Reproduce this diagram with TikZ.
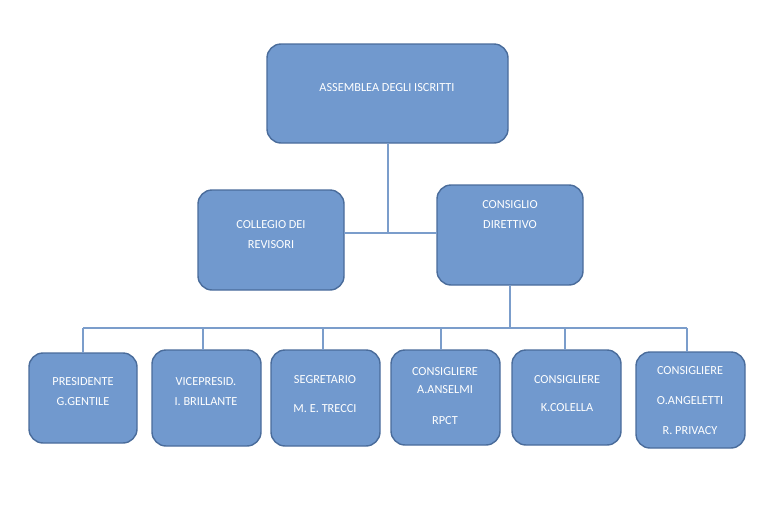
\documentclass[tikz,border=0pt]{standalone}
\usepackage{fontspec}
\setmainfont{Carlito}
\definecolor{boxfill}{HTML}{7199CE}
\definecolor{boxline}{HTML}{4A6C9B}
\definecolor{wireblue}{HTML}{7B9DCB}
\tikzset{
  orgbox/.style={draw=boxline,fill=boxfill,line width=0.8pt,rounded corners=8pt},
  lbl/.style={text=white,font=\fontsize{7}{8}\selectfont,inner sep=0pt},
  wire/.style={draw=wireblue,line width=0.9pt}
}
\begin{document}
\begin{tikzpicture}[x=0.02cm,y=-0.02cm]
  \useasboundingbox (0,0) rectangle (781,507);
  % boxes
  \draw[orgbox] (267,44) rectangle (508,143) coordinate (asmb_br);
  \coordinate (asmb_b) at (388,143);
  \draw[orgbox] (198,190) rectangle (344,290);
  \coordinate (coll_r) at (344,233);
  \draw[orgbox] (437,185) rectangle (583,285);
  \coordinate (cons_l) at (437,233);
  \coordinate (cons_b) at (510,285);
  \draw[orgbox] (29,353) rectangle (137,443);
  \draw[orgbox] (152,350) rectangle (261,446);
  \draw[orgbox] (271,350) rectangle (380,446);
  \draw[orgbox] (391,350) rectangle (500,445);
  \draw[orgbox] (512,350) rectangle (621,445);
  \draw[orgbox] (636,352) rectangle (745,448);
  % labels
  \node[lbl] (asmb) at (387,88) {ASSEMBLEA DEGLI ISCRITTI};
  \node[lbl] (coll1) at (271,225) {COLLEGIO DEI};
  \node[lbl] (coll2) at (271,245) {REVISORI};
  \node[lbl] (cons1) at (510,205) {CONSIGLIO};
  \node[lbl] (cons2) at (510,225) {DIRETTIVO};
  \node[lbl] (pres1) at (83,382) {PRESIDENTE};
  \node[lbl] (pres2) at (83,402) {G.GENTILE};
  \node[lbl] (vice1) at (206,382) {VICEPRESID.};
  \node[lbl] (vice2) at (206,402) {I. BRILLANTE};
  \node[lbl] (segr1) at (325,380) {SEGRETARIO};
  \node[lbl] (segr2) at (325,409) {M. E. TRECCI};
  \node[lbl] (ansl1) at (445,372) {CONSIGLIERE};
  \node[lbl] (ansl2) at (445,390) {A.ANSELMI};
  \node[lbl] (ansl3) at (445,421) {RPCT};
  \node[lbl] (colo1) at (567,380) {CONSIGLIERE};
  \node[lbl] (colo2) at (567,408) {K.COLELLA};
  \node[lbl] (angl1) at (690,371) {CONSIGLIERE};
  \node[lbl] (angl2) at (690,401) {O.ANGELETTI};
  \node[lbl] (angl3) at (690,431) {R. PRIVACY};
  % connectors
  \draw[wire] (asmb_b) -- (388,233);
  \draw[wire] (coll_r) -- (cons_l);
  \draw[wire] (cons_b) -- (510,328);
  \draw[wire] (83,328) -- (687,328);
  \foreach \xx/\yy in {83/353,203/350,323/350,441/350,565/350,687/352}
    \draw[wire] (\xx,328) -- (\xx,\yy);
\end{tikzpicture}
\end{document}
